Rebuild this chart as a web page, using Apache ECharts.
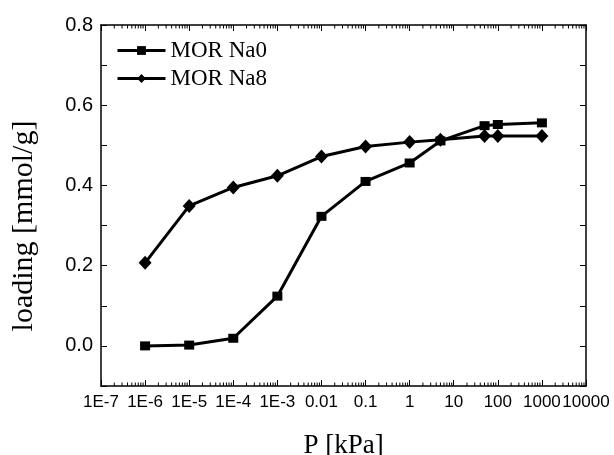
<!DOCTYPE html>
<html><head><meta charset="utf-8">
<script src="https://cdn.jsdelivr.net/npm/echarts@6/dist/echarts.min.js"></script>
<style>html,body{margin:0;padding:0;background:#fff}#c{width:614px;height:455px}</style>
</head><body><div id="c"></div>
<script>
const pressures = [1e-6, 1e-5, 1e-4, 1e-3, 0.01, 0.1, 1, 5, 50, 100, 1000];
const loadingNa0 = [0.000, 0.002, 0.019, 0.124, 0.323, 0.410, 0.456, 0.511, 0.549, 0.552, 0.556];
const loadingNa8 = [0.207, 0.349, 0.395, 0.424, 0.472, 0.497, 0.508, 0.514, 0.523, 0.523, 0.523];
const xTickLabels = ['1E-7','1E-6','1E-5','1E-4','1E-3','0.01','0.1','1','10','100','1000','10000'];
const seriesNames = ['MOR Na0', 'MOR Na8'];
const xMin = 1e-7, xMax = 1e4, yMin = -0.1, yMax = 0.8;

const minorTicks = [];
for (let k = -7; k < 4; k++) for (let m = 2; m <= 9; m++) minorTicks.push([m * Math.pow(10, k)]);

const chart = echarts.init(document.getElementById('c'), null, {renderer: 'canvas'});
const sans = 'Liberation Sans', serif = 'Liberation Serif';
const axisLine = {show: true, onZero: false, lineStyle: {color: '#000', width: 1.5}};

chart.setOption({
  animation: false,
  backgroundColor: '#fff',
  grid: {left: 101, right: 28, top: 25, bottom: 69, containLabel: false, outerBoundsMode: 'none'},
  legend: {
    orient: 'vertical', left: 116, top: 39, padding: 0, itemGap: 5,
    itemWidth: 48, itemHeight: 11,
    lineStyle: {width: 3, color: '#000'},
    itemStyle: {color: '#000'},
    textStyle: {fontFamily: serif, fontSize: 23, color: '#000', lineHeight: 22},
    data: seriesNames
  },
  xAxis: [{
    type: 'log', logBase: 10, min: xMin, max: xMax, splitNumber: 11, interval: 1,
    axisLine: axisLine,
    axisTick: {show: true, inside: true, length: 6, lineStyle: {color: '#000', width: 1}},
    axisLabel: {
      show: true, margin: 8, color: '#000', fontFamily: sans, fontSize: 17,
      formatter: v => xTickLabels[Math.round(Math.log10(v)) + 7]
    },
    splitLine: {show: false},
    name: 'P [kPa]', nameLocation: 'middle', nameGap: 46,
    nameTextStyle: {fontFamily: serif, fontSize: 27, color: '#000'}
  }, {
    type: 'log', logBase: 10, min: xMin, max: xMax, splitNumber: 11, interval: 1, position: 'top',
    axisLine: axisLine,
    axisTick: {show: true, inside: true, length: 6, lineStyle: {color: '#000', width: 1}},
    axisLabel: {show: false}, splitLine: {show: false}
  }],
  yAxis: [{
    type: 'value', min: yMin, max: yMax, interval: 0.1,
    axisLine: axisLine,
    axisTick: {show: true, inside: true, length: 6, lineStyle: {color: '#000', width: 1}},
    axisLabel: {
      margin: 8, color: '#000', fontFamily: sans, fontSize: 20,
      formatter: v => { const i = Math.round(v * 10); return (i >= 0 && i % 2 === 0) ? (i / 10).toFixed(1) : ''; }
    },
    splitLine: {show: false}
  }, {
    type: 'value', min: yMin, max: yMax, interval: 0.1, position: 'right',
    axisLine: axisLine,
    axisTick: {show: true, inside: true, length: 6, lineStyle: {color: '#000', width: 1}},
    axisLabel: {show: false}, splitLine: {show: false}
  }],
  graphic: [{
    type: 'text', x: 24, y: 226, rotation: Math.PI / 2,
    style: {text: 'loading [mmol/g]', font: '30px "Liberation Serif"', fill: '#000', align: 'center', verticalAlign: 'middle'}
  }],
  series: [{
    name: seriesNames[0], type: 'line',
    data: pressures.map((p, i) => [p, loadingNa0[i]]),
    symbol: 'rect', symbolSize: [10, 9],
    lineStyle: {color: '#000', width: 3}, itemStyle: {color: '#000'}, z: 3
  }, {
    name: seriesNames[1], type: 'line',
    data: pressures.map((p, i) => [p, loadingNa8[i]]),
    symbol: 'diamond', symbolSize: [13, 14],
    lineStyle: {color: '#000', width: 3}, itemStyle: {color: '#000'}, z: 3
  }, {
    type: 'custom', silent: true, clip: false,
    data: minorTicks,
    encode: {x: 0},
    renderItem: (params, api) => {
      const v = api.value(0);
      const b = api.coord([v, yMin]);
      const t = api.coord([v, yMax]);
      return {type: 'group', children: [
        {type: 'line', shape: {x1: b[0], y1: b[1], x2: b[0], y2: b[1] - 3.5}, style: {stroke: '#000', lineWidth: 1}},
        {type: 'line', shape: {x1: t[0], y1: t[1], x2: t[0], y2: t[1] + 3.5}, style: {stroke: '#000', lineWidth: 1}}
      ]};
    }
  }]
});
</script></body></html>
